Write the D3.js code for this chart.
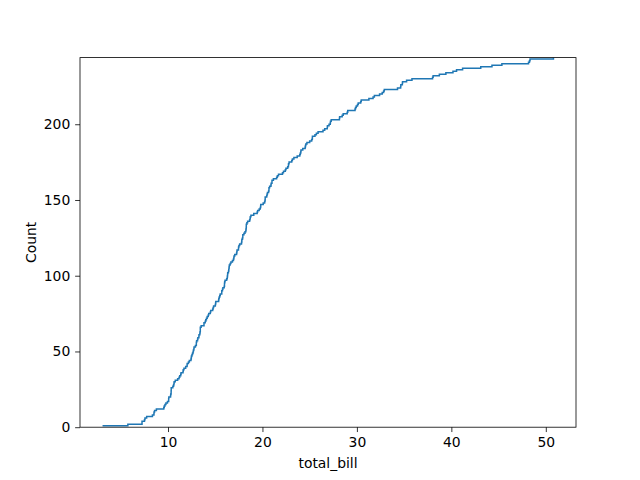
<!DOCTYPE html>
<html lang="en">
<head>
<meta charset="UTF-8">
<title>ECDF total_bill</title>
<script src="https://d3js.org/d3.v7.min.js"></script>
<style>
  body { margin: 0; background: #fff; }
  text { font-family: "DejaVu Sans", sans-serif; }
</style>
</head>
<body>
<div id="chart"></div>
<script>
// tips dataset, total_bill column
var totalBill = [16.99, 10.34, 21.01, 23.68, 24.59, 25.29, 8.77, 26.88, 15.04, 14.78, 10.27, 35.26, 15.42, 18.43, 14.83, 21.58, 10.33, 16.29, 16.97, 20.65, 17.92, 20.29, 15.77, 39.42, 19.82, 17.81, 13.37, 12.69, 21.70, 19.65, 9.55, 18.35, 15.06, 20.69, 17.78, 24.06, 16.31, 16.93, 18.69, 31.27, 16.04, 17.46, 13.94, 9.68, 30.40, 18.29, 22.23, 32.40, 28.55, 18.04, 12.54, 10.29, 34.81, 9.94, 25.56, 19.49, 38.01, 26.41, 11.24, 48.27, 20.29, 13.81, 11.02, 18.29, 17.59, 20.08, 16.45, 3.07, 20.23, 15.01, 12.02, 17.07, 26.86, 25.28, 14.73, 10.51, 17.92, 27.20, 22.76, 17.29, 19.44, 16.66, 10.07, 32.68, 15.98, 34.83, 13.03, 18.28, 24.71, 21.16, 28.97, 22.49, 5.75, 16.32, 22.75, 40.17, 27.28, 12.03, 21.01, 12.46, 11.35, 15.38, 44.30, 22.42, 20.92, 15.36, 20.49, 25.21, 18.24, 14.31, 14.00, 7.25, 38.07, 23.95, 25.71, 17.31, 29.93, 10.65, 12.43, 24.08, 11.69, 13.42, 14.26, 15.95, 12.48, 29.80, 8.52, 14.52, 11.38, 22.82, 19.08, 20.27, 11.17, 12.26, 18.26, 8.51, 10.33, 14.15, 16.00, 13.16, 17.47, 34.30, 41.19, 27.05, 16.43, 8.35, 18.64, 11.87, 9.78, 7.51, 14.07, 13.13, 17.26, 24.55, 19.77, 29.85, 48.17, 25.00, 13.39, 16.49, 21.50, 12.66, 16.21, 13.81, 17.51, 24.52, 20.76, 31.71, 10.59, 10.63, 50.81, 15.81, 7.25, 31.85, 16.82, 32.90, 17.89, 14.48, 9.60, 34.63, 34.65, 23.33, 45.35, 23.17, 40.55, 20.69, 20.90, 30.46, 18.15, 23.10, 15.69, 19.81, 28.44, 15.48, 16.58, 7.56, 10.34, 43.11, 13.00, 13.51, 18.71, 12.74, 13.00, 16.40, 20.53, 16.47, 26.59, 38.73, 24.27, 12.76, 30.06, 25.89, 48.33, 13.27, 28.17, 12.90, 28.15, 11.59, 7.74, 30.14, 12.16, 13.42, 8.58, 15.98, 13.42, 16.27, 10.09, 20.45, 13.28, 22.12, 24.01, 15.69, 11.61, 10.77, 15.53, 10.07, 12.60, 32.83, 35.83, 29.03, 27.18, 22.67, 17.82, 18.78]

var xTicks = [10, 20, 30, 40, 50]
var yTicks = [0, 50, 100, 150, 200]
var xLabel = "total_bill"
var yLabel = "Count"

var width = 640
var height = 480
var margin = {left: 80, right: 64, top: 57.6, bottom: 52.8}
var innerW = width - margin.left - margin.right
var innerH = height - margin.top - margin.bottom

var svg = d3.select("#chart")
  .append("svg")
    .attr("width", width)
    .attr("height", height)

// cumulative counts (ecdf, stat="count")
var sorted = totalBill.slice().sort(d3.ascending)
var points = sorted.map(function(v, i) { return [v, i + 1] })

var xmin = d3.min(sorted), xmax = d3.max(sorted)
var pad = (xmax - xmin) * 0.05
var x = d3.scaleLinear()
  .domain([xmin - pad, xmax + pad])
  .range([margin.left, margin.left + innerW])
var y = d3.scaleLinear()
  .domain([0, sorted.length])
  .range([margin.top + innerH, margin.top])

svg.append("clipPath").attr("id", "clip")
  .append("rect")
    .attr("x", margin.left).attr("y", margin.top)
    .attr("width", innerW).attr("height", innerH)

var line = d3.line()
  .x(function(d) { return x(d[0]) })
  .y(function(d) { return y(d[1]) })
  .curve(d3.curveStepAfter)

svg.append("path")
  .datum(points)
  .attr("clip-path", "url(#clip)")
  .attr("fill", "none")
  .attr("stroke", "#1f77b4")
  .attr("stroke-width", 1.5)
  .attr("d", line)

// axes
var xAxis = svg.append("g")
  .attr("transform", "translate(0," + (margin.top + innerH) + ")")
  .call(d3.axisBottom(x).tickValues(xTicks).tickSize(4.86).tickPadding(4.9))
var yAxis = svg.append("g")
  .attr("transform", "translate(" + margin.left + ",0)")
  .call(d3.axisLeft(y).tickValues(yTicks).tickSize(4.86).tickPadding(4.9))

;[xAxis, yAxis].forEach(function(g) {
  g.select(".domain").remove()
  g.selectAll(".tick line").attr("stroke", "#000").attr("stroke-width", 0.8)
  g.selectAll(".tick text")
    .attr("fill", "#000")
    .style("font-size", "13.9px")
    .style("font-family", "DejaVu Sans, sans-serif")
})

// frame
svg.append("rect")
  .attr("x", margin.left).attr("y", margin.top)
  .attr("width", innerW).attr("height", innerH)
  .attr("fill", "none")
  .attr("stroke", "#000")
  .attr("stroke-width", 0.8)

svg.append("text")
  .attr("x", margin.left + innerW / 2)
  .attr("y", 468)
  .attr("text-anchor", "middle")
  .style("font-size", "13.9px")
  .text(xLabel)

svg.append("text")
  .attr("transform", "translate(36," + (margin.top + innerH / 2) + ") rotate(-90)")
  .attr("text-anchor", "middle")
  .style("font-size", "13.9px")
  .text(yLabel)
</script>
</body>
</html>
